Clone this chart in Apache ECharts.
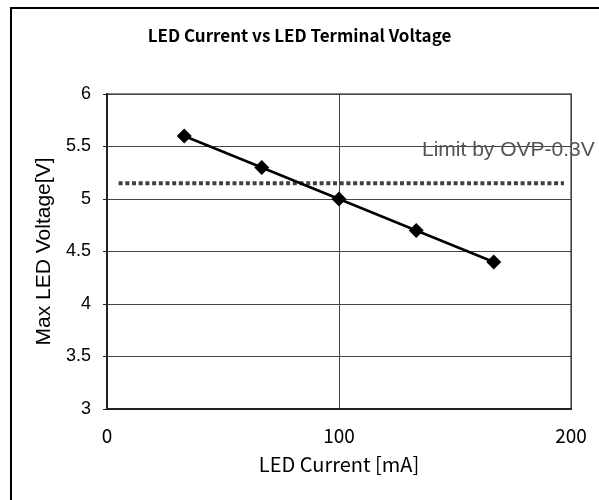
<!DOCTYPE html>
<html>
<head>
<meta charset="utf-8">
<script src="https://cdn.jsdelivr.net/npm/echarts@6/dist/echarts.min.js"></script>
<style>html,body{margin:0;padding:0;background:#fff}#c{width:599px;height:500px}</style>
</head>
<body>
<div id="c"></div>
<script>
var currents = [33.3, 66.7, 100, 133.3, 166.7];
var voltages = [5.6, 5.3, 5.0, 4.7, 4.4];
var limitX = [5, 197];
var limitV = 5.15;
var limitLabel = 'Limit by OVP-0.3V';
var xTicks = [0, 100, 200];
var yTicks = [3, 3.5, 4, 4.5, 5, 5.5, 6];

var chart = echarts.init(document.getElementById('c'));
var ja = '"Noto Sans CJK JP", sans-serif';
var ar = '"Liberation Sans", Arial, sans-serif';
chart.setOption({
  animation: false,
  title: {
    text: 'LED Current vs LED Terminal Voltage',
    left: 'center', top: 22,
    textStyle: { fontFamily: ja, fontWeight: 'bold', fontSize: 17, color: '#000' }
  },
  graphic: [
    { type: 'rect', shape: { x: 11, y: 8, width: 700, height: 600 }, style: { fill: 'none', stroke: '#000', lineWidth: 2 }, z: 100 },
    { type: 'text', x: 422, y: 150, style: { text: limitLabel, fill: '#555', fontSize: 21, fontFamily: ar, verticalAlign: 'middle' }, z: 100 }
  ],
  grid: { left: 107, right: 28, top: 94, bottom: 91, show: true, borderColor: '#888', borderWidth: 2 },
  xAxis: {
    type: 'value', min: xTicks[0], max: xTicks[xTicks.length - 1], interval: 100,
    name: 'LED Current [mA]', nameLocation: 'middle', nameGap: 45,
    nameTextStyle: { fontFamily: ja, fontSize: 20, color: '#000' },
    axisLine: { show: true, lineStyle: { color: '#222', width: 2 } },
    axisTick: { show: false },
    axisLabel: { fontFamily: ja, fontSize: 19, color: '#000', margin: 17 },
    splitLine: { show: true, lineStyle: { color: '#444', width: 1 } }
  },
  yAxis: {
    type: 'value', min: yTicks[0], max: yTicks[yTicks.length - 1], interval: 0.5,
    name: 'Max LED Voltage[V]', nameLocation: 'middle', nameGap: 51,
    nameTextStyle: { fontFamily: ar, fontSize: 21, color: '#000' },
    axisLine: { show: true, lineStyle: { color: '#222', width: 2 } },
    axisTick: { show: true, length: 4, lineStyle: { color: '#222' } },
    axisLabel: { fontFamily: ar, fontSize: 18, color: '#000', margin: 16 },
    splitLine: { show: true, lineStyle: { color: '#444', width: 1 } }
  },
  series: [
    {
      type: 'line',
      data: limitX.map(function (x) { return [x, limitV]; }),
      symbol: 'none',
      lineStyle: { color: '#404040', width: 4, type: [4, 2.7] },
      z: 2
    },
    {
      type: 'line',
      data: currents.map(function (c, i) { return [c, voltages[i]]; }),
      symbol: 'diamond', symbolSize: 15,
      itemStyle: { color: '#000' },
      lineStyle: { color: '#000', width: 2.5 },
      z: 3
    }
  ]
});
</script>
</body>
</html>
